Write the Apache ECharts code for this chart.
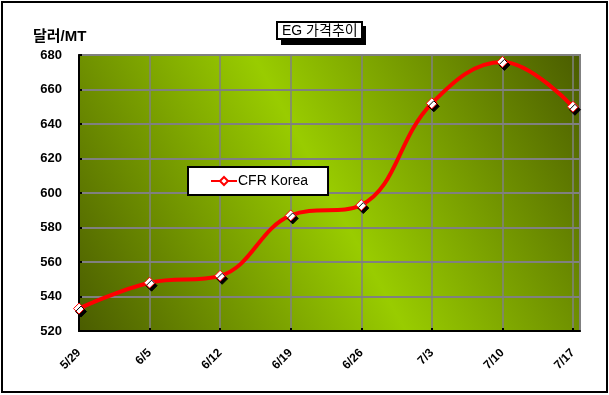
<!DOCTYPE html>
<html><head><meta charset="utf-8">
<script src="https://cdn.jsdelivr.net/npm/echarts@6/dist/echarts.min.js"></script>
<style>html,body{margin:0;padding:0;background:#fff}#c{width:609px;height:395px}</style>
</head><body><div id="c"></div>
<script>
const categories = ['5/29','6/5','6/12','6/19','6/26','7/3','7/10','7/17'];
const cfrKorea = [533, 548, 552, 587, 593, 652, 676, 650];
const seriesName = 'CFR Korea';
const chartTitle = 'EG 가격추이';
const yUnit = '달러/MT';
const yMin = 520, yMax = 680, yStep = 20;

const chart = echarts.init(document.getElementById('c'), null, {renderer:'canvas'});
const fontFam = "'Liberation Sans', Arial, 'Noto Sans CJK KR', sans-serif";
chart.setOption({
  animation: false,
  title: {
    text: chartTitle, left: 277, top: 22, z: 10,
    padding: [2, 5, 1, 5],
    backgroundColor: '#fff', borderColor: '#000', borderWidth: 2,
    textStyle: {fontFamily: fontFam, fontSize: 14, fontWeight: 'normal', color: '#000'}
  },
  graphic: [
    {type: 'rect', shape: {x: 2, y: 2, width: 605, height: 390}, style: {fill: null, stroke: '#000', lineWidth: 2}, z: 100},
    {type: 'rect', shape: {x: 281, y: 26, width: 85, height: 19}, style: {fill: '#000'}, z: 1},
    {type: 'text', left: 33, top: 29, style: {text: yUnit, font: "bold 15px " + fontFam, fill: '#000'}}
  ],
  legend: {
    left: 188, top: 167, orient: 'horizontal',
    padding: [7, 20, 7, 22],
    backgroundColor: '#fff', borderColor: '#000', borderWidth: 2,
    itemWidth: 26, itemHeight: 10, itemGap: 4,
    textStyle: {fontFamily: fontFam, fontSize: 14, color: '#000', padding: [0,0,0,-4]},
    data: [seriesName]
  },
  grid: {
    left: 79, top: 55, right: 29, bottom: 64, show: true,
    borderColor: '#808080', borderWidth: 2,
    backgroundColor: new echarts.graphic.LinearGradient(0, 1, 1, 0, [
      {offset: 0, color: '#4a5c00'},
      {offset: 0.5, color: '#99cc00'},
      {offset: 1, color: '#4a5c00'}
    ])
  },
  xAxis: {
    type: 'value', min: 0, max: 7.1, interval: 1,
    axisLine: {show: true, onZero: false, lineStyle: {color: '#000', width: 2}},
    axisTick: {show: true, inside: true, length: 3, lineStyle: {color: '#000', width: 2}},
    splitLine: {show: true, lineStyle: {color: '#808080', width: 1.5}},
    axisLabel: {
      rotate: 45, margin: 20, fontFamily: fontFam, fontSize: 12, fontWeight: 'bold', color: '#000',
      showMaxLabel: false,
      formatter: v => Number.isInteger(v) ? (categories[v] || '') : ''
    }
  },
  yAxis: {
    type: 'value', min: yMin, max: yMax, interval: yStep,
    axisLine: {show: true, lineStyle: {color: '#000', width: 2}},
    axisTick: {show: true, inside: true, length: 3, lineStyle: {color: '#000', width: 2}},
    splitLine: {show: true, lineStyle: {color: '#808080', width: 2}},
    axisLabel: {margin: 17, fontFamily: fontFam, fontSize: 13, fontWeight: 'bold', color: '#000'}
  },
  series: [{
    name: seriesName, type: 'line', smooth: 0.4,
    data: cfrKorea.map((v, i) => [i, v]),
    symbol: 'diamond', symbolSize: 11, showAllSymbol: true,
    lineStyle: {color: '#ff0000', width: 4},
    itemStyle: {color: '#fff', borderColor: '#ff0000', borderWidth: 1,
      shadowColor: '#000', shadowOffsetX: 2, shadowOffsetY: 3, shadowBlur: 0.1},
    z: 5
  }]
});
</script></body></html>
